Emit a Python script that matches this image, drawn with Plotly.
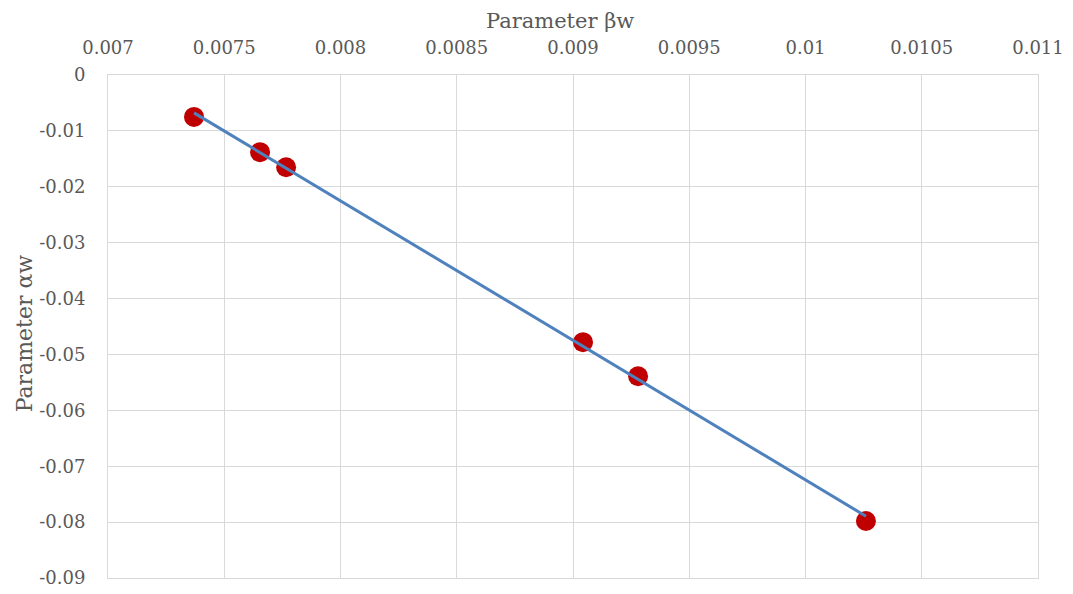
import numpy as np
import plotly.graph_objects as go

beta_w = [0.00737, 0.007654, 0.007766, 0.009043, 0.00928, 0.01026]
alpha_w = [-0.0075, -0.0138, -0.0165, -0.0478, -0.0539, -0.0798]

x_ticks = [0.007, 0.0075, 0.008, 0.0085, 0.009, 0.0095, 0.01, 0.0105, 0.011]
x_ticktext = ["0.007", "0.0075", "0.008", "0.0085", "0.009", "0.0095", "0.01", "0.0105", "0.011"]
y_ticks = [0, -0.01, -0.02, -0.03, -0.04, -0.05, -0.06, -0.07, -0.08, -0.09]
y_ticktext = ["0", "-0.01", "-0.02", "-0.03", "-0.04", "-0.05", "-0.06", "-0.07", "-0.08", "-0.09"]

x_title = "Parameter βw"
y_title = "Parameter αw"

# linear trendline fitted to the data
slope, intercept = np.polyfit(beta_w, alpha_w, 1)
trend_x = [min(beta_w), max(beta_w)]
trend_y = [slope * v + intercept for v in trend_x]

font_family = "DejaVu Serif, Liberation Serif, serif"
grey = "#595959"

fig = go.Figure()
fig.add_trace(go.Scatter(
    x=beta_w, y=alpha_w, mode="markers",
    marker=dict(color="#c00000", size=20, line=dict(width=0)),
    showlegend=False, hoverinfo="x+y",
))
fig.add_trace(go.Scatter(
    x=trend_x, y=trend_y, mode="lines",
    line=dict(color="#4f81bd", width=3),
    showlegend=False, hoverinfo="skip",
))

fig.update_layout(
    width=1065, height=586,
    margin=dict(l=100, r=35, t=67, b=16),
    paper_bgcolor="white", plot_bgcolor="white",
    font=dict(family=font_family, color=grey, size=18),
    xaxis=dict(
        side="top", range=[0.007, 0.011], automargin=False,
        tickvals=x_ticks, ticktext=x_ticktext,
        showgrid=True, gridcolor="#d9d9d9", gridwidth=1,
        showline=True, linecolor="#d9d9d9", linewidth=1, mirror=True,
        zeroline=False, ticks="", ticklabelstandoff=13,
        tickfont=dict(size=18, color=grey),
    ),
    yaxis=dict(
        range=[-0.09, 0], automargin=False,
        tickvals=y_ticks, ticktext=y_ticktext,
        showgrid=True, gridcolor="#d9d9d9", gridwidth=1,
        showline=True, linecolor="#d9d9d9", linewidth=1, mirror=True,
        zeroline=False, ticks="", ticklabelstandoff=18,
        tickfont=dict(size=18, color=grey),
    ),
    annotations=[
        dict(text=x_title, xref="paper", yref="paper", x=0.486, y=1.135,
             xanchor="center", yanchor="top", showarrow=False,
             font=dict(size=21, color=grey, family=font_family)),
        dict(text=y_title, xref="paper", yref="paper", x=-0.09, y=0.487,
             xanchor="center", yanchor="middle", showarrow=False, textangle=-90,
             font=dict(size=22, color=grey, family=font_family)),
    ],
)

fig.write_html("out.html")
